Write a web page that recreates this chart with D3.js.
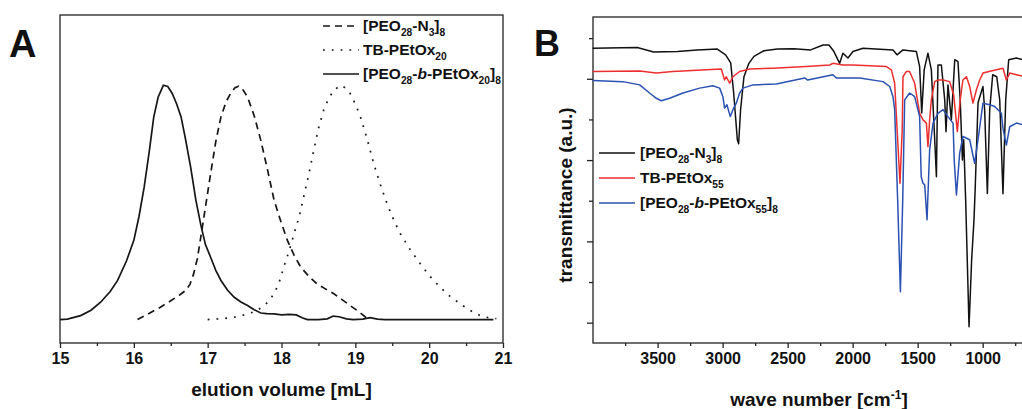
<!DOCTYPE html>
<html>
<head>
<meta charset="utf-8">
<script src="https://cdn.jsdelivr.net/npm/d3@7"></script>
<style>
    body { margin: 0; background: #fff; }
    svg text { font-family: "Liberation Sans", Arial, sans-serif; font-weight: bold; fill: #111; }
</style>
</head>
<body>
<div id="chart"></div>
<script>

// ---------- panel A : SEC traces (elution volume [mL], normalized signal) ----------
let solidA = [[15.0,0],[15.1,0.002],[15.28,0.017],[15.42,0.04],[15.55,0.074],[15.68,0.12],[15.78,0.167],[15.9,0.25],
    [16.0,0.338],[16.07,0.44],[16.14,0.565],[16.21,0.72],[16.27,0.865],[16.33,0.95],[16.40,1.0],[16.46,0.995],
    [16.52,0.965],[16.58,0.92],[16.64,0.865],[16.70,0.77],[16.77,0.65],[16.84,0.51],[16.91,0.40],[16.97,0.32],
    [17.04,0.266],[17.11,0.21],[17.18,0.167],[17.27,0.125],[17.36,0.095],[17.45,0.075],[17.54,0.06],[17.63,0.042],
    [17.72,0.028],[17.8,0.025],[17.9,0.024],[18.0,0.02],[18.1,0.022],[18.2,0.02],[18.28,0.008],[18.35,0],[18.5,0],
    [18.62,0.003],[18.7,0.015],[18.78,0.012],[18.88,0.003],[18.97,0],[19.1,0.002],[19.2,0.008],[19.3,0.002],[19.4,0],[20.87,0]];

let dashedA = [[16.05,0],[16.2,0.025],[16.36,0.053],[16.5,0.08],[16.62,0.105],[16.70,0.124],[16.76,0.15],[16.81,0.195],
    [16.86,0.26],[16.9,0.338],[16.97,0.48],[17.04,0.623],[17.11,0.76],[17.18,0.865],[17.25,0.93],[17.31,0.965],
    [17.37,0.99],[17.42,0.996],[17.48,0.98],[17.54,0.95],[17.63,0.87],[17.72,0.765],[17.81,0.64],[17.9,0.509],
    [17.99,0.42],[18.08,0.338],[18.17,0.275],[18.26,0.224],[18.37,0.185],[18.48,0.152],[18.6,0.13],[18.71,0.11],
    [18.82,0.085],[18.93,0.06],[19.04,0.035],[19.14,0.01],[19.2,0]];

let dottedA = [[17.0,0],[17.2,0.004],[17.36,0.01],[17.52,0.022],[17.67,0.038],[17.8,0.07],[17.9,0.11],[17.97,0.16],
    [18.03,0.224],[18.1,0.29],[18.17,0.366],[18.24,0.44],[18.3,0.523],[18.37,0.62],[18.44,0.727],[18.5,0.815],
    [18.57,0.893],[18.64,0.945],[18.71,0.979],[18.8,1.0],[18.86,0.99],[18.93,0.965],[19.0,0.92],[19.07,0.865],
    [19.16,0.77],[19.25,0.665],[19.34,0.575],[19.43,0.494],[19.52,0.425],[19.61,0.366],[19.74,0.3],[19.88,0.238],
    [20.01,0.185],[20.15,0.138],[20.28,0.1],[20.42,0.067],[20.55,0.04],[20.69,0.017],[20.8,0.008],[20.91,0.004]];

let ticksA = [15, 16, 17, 18, 19, 20, 21];
let minorTicksA = [15.5, 16.5, 17.5, 18.5, 19.5, 20.5];

// legend labels, split in pieces so the subscripts can be set (sub / it flags)
let legendA = [
    {dash: "7,5", parts: [{t: "[PEO"}, {t: "28", sub: true}, {t: "-N"}, {t: "3", sub: true}, {t: "]"}, {t: "8", sub: true}]},
    {dash: "1.8,7", parts: [{t: "TB-PEtOx"}, {t: "20", sub: true}]},
    {dash: null, parts: [{t: "[PEO"}, {t: "28", sub: true}, {t: "-"}, {t: "b", it: true}, {t: "-PEtOx"}, {t: "20", sub: true}, {t: "]"}, {t: "8", sub: true}]}
];

// ---------- panel B : IR spectra (wave number [cm-1], transmittance a.u.) ----------
let blackB = [[4000,6.75],[3656,6.77],[3531,6.66],[3348,6.67],[3195,6.71],[3041,6.73],[2977,6.59],[2938,6.39],
    [2915,5.65],[2887,4.5],[2877,4.4],[2862,5.24],[2836,6.05],[2798,6.38],[2759,6.55],[2682,6.69],[2579,6.73],
    [2452,6.74],[2323,6.71],[2228,6.83],[2182,6.83],[2144,6.67],[2100,6.38],[2075,6.63],[2036,6.51],[1998,6.67],
    [1921,6.75],[1690,6.71],[1659,6.59],[1613,6.71],[1510,6.67],[1485,6.3],[1469,5.16],[1450,6.22],[1421,6.63],
    [1395,6.22],[1369,4.5],[1356,3.59],[1344,6.34],[1318,6.34],[1292,5.48],[1282,4.7],[1267,5.85],[1241,4.99],
    [1215,6.47],[1190,6.42],[1173,5.48],[1156,4.0],[1146,4.5],[1131,3.02],[1105,-0.1],[1085,1.54],[1067,2.53],
    [1058,3.27],[1036,5.41],[998,5.81],[985,5.24],[964,3.18],[946,5.24],[923,6.1],[892,6.05],[869,5.48],[844,3.17],
    [823,5.48],[800,6.47],[741,6.51],[690,6.47]];

let redB = [[4000,6.18],[3638,6.19],[3510,6.14],[3382,6.18],[3125,6.22],[3010,6.24],[2985,5.97],[2972,6.05],
    [2946,5.89],[2921,6.05],[2869,6.18],[2792,6.24],[2613,6.26],[2356,6.3],[2177,6.34],[2152,6.38],[2075,6.34],
    [1998,6.34],[1741,6.3],[1702,6.22],[1677,5.89],[1654,4.5],[1636,3.43],[1619,4.74],[1613,6.05],[1587,6.18],
    [1562,6.18],[1523,5.89],[1485,5.15],[1459,4.99],[1433,4.91],[1421,4.33],[1408,4.99],[1395,5.48],[1369,5.93],
    [1344,5.97],[1305,5.97],[1254,5.93],[1223,5.6],[1195,4.7],[1173,5.48],[1152,5.97],[1125,6.05],[1100,5.81],
    [1075,5.4],[1048,5.73],[1023,5.97],[998,6.14],[895,6.22],[844,6.26],[818,5.97],[792,6.14],[741,6.1],[690,6.06]];

let blueB = [[4000,5.96],[3767,5.93],[3638,5.85],[3562,5.65],[3510,5.52],[3472,5.46],[3408,5.52],[3305,5.65],
    [3177,5.77],[3075,5.83],[3023,5.77],[2998,5.56],[2985,5.28],[2967,5.36],[2941,5.07],[2921,5.24],[2895,5.4],
    [2869,5.65],[2844,5.77],[2767,5.85],[2587,5.87],[2369,6.02],[2346,5.97],[2152,6.1],[2126,6.02],[1946,6.02],
    [1767,5.93],[1715,5.81],[1690,5.56],[1677,5.24],[1654,3.02],[1633,0.76],[1615,3.02],[1600,5.48],[1562,5.65],
    [1523,5.56],[1485,5.07],[1473,3.59],[1459,3.43],[1446,3.39],[1428,2.53],[1408,4.25],[1395,4.58],[1382,4.91],
    [1344,5.15],[1305,5.24],[1267,5.07],[1228,4.91],[1219,4.0],[1202,3.14],[1177,4.17],[1152,4.58],[1100,4.5],
    [1062,3.92],[1036,4.5],[998,5.4],[946,5.36],[908,5.32],[856,5.15],[844,4.78],[818,4.37],[792,4.82],[741,4.91],[690,4.87]];

let ticksB = [3500, 3000, 2500, 2000, 1500, 1000];
let minorTicksB = [3750, 3250, 2750, 2250, 1750, 1250, 750];
let yTicksB = [0, 2, 4, 6];
let yMinorTicksB = [1, 3, 5, 7];

let legendB = [
    {color: "#111111", parts: [{t: "[PEO"}, {t: "28", sub: true}, {t: "-N"}, {t: "3", sub: true}, {t: "]"}, {t: "8", sub: true}]},
    {color: "#ee2e2e", parts: [{t: "TB-PEtOx"}, {t: "55", sub: true}]},
    {color: "#2a52b2", parts: [{t: "[PEO"}, {t: "28", sub: true}, {t: "-"}, {t: "b", it: true}, {t: "-PEtOx"}, {t: "55", sub: true}, {t: "]"}, {t: "8", sub: true}]}
];

let series = [blackB, redB, blueB];

// ---------- drawing ----------
let svg = d3.select("#chart").append("svg")
    .attr("width", 1022)
    .attr("height", 409);

// writes text pieces with sub/italic tspans
function richText(sel, parts, size) {
    let shift = 0;
    parts.forEach(p => {
        let ts = sel.append("tspan").text(p.t);
        if (p.sub) {
            ts.attr("font-size", size * 0.66).attr("dy", 5 - shift);
            shift = 5;
        } else {
            ts.attr("dy", -shift);
            shift = 0;
        }
        if (p.it) ts.attr("font-style", "italic");
    });
}

// ===== panel A =====
let xA = d3.scaleLinear().domain([15, 21]).range([60, 503]);
let yA = d3.scaleLinear().domain([-0.1, 1.3]).range([343, 15]);

let gA = svg.append("g");

gA.append("rect")
    .attr("x", xA.range()[0]).attr("y", yA.range()[1])
    .attr("width", xA.range()[1] - xA.range()[0])
    .attr("height", yA.range()[0] - yA.range()[1])
    .attr("fill", "none").attr("stroke", "#222").attr("stroke-width", 1.3);

gA.append("g")
    .attr("transform", `translate(0, ${yA.range()[0]})`)
    .call(d3.axisBottom(xA).tickValues(ticksA).tickSize(5).tickPadding(5).tickFormat(d3.format("d")))
    .call(g => g.select(".domain").remove())
    .call(g => g.selectAll("line").attr("stroke", "#222").attr("stroke-width", 1.3))
    .call(g => g.selectAll("text").attr("font-size", 16).attr("font-family", null).attr("fill", "#111"));

gA.append("g")
    .attr("transform", `translate(0, ${yA.range()[0]})`)
    .call(d3.axisBottom(xA).tickValues(minorTicksA).tickSize(3).tickFormat(""))
    .call(g => g.select(".domain").remove())
    .call(g => g.selectAll("line").attr("stroke", "#222").attr("stroke-width", 1.3));

let lineA = d3.line().x(d => xA(d[0])).y(d => yA(d[1]));

[[dashedA, "7,5"], [dottedA, "1.8,7"], [solidA, null]].forEach(([data, dash]) => {
    gA.append("path")
        .datum(data)
        .attr("d", lineA)
        .attr("fill", "none")
        .attr("stroke", "#161616")
        .attr("stroke-width", 1.7)
        .attr("stroke-dasharray", dash);
});

// legend A
let legA = gA.append("g").attr("transform", "translate(323, 26)");
legendA.forEach((l, i) => {
    let row = legA.append("g").attr("transform", `translate(0, ${i * 24})`);
    row.append("line").attr("x1", 0).attr("x2", 36).attr("y1", 0).attr("y2", 0)
        .attr("stroke", "#161616").attr("stroke-width", 1.7).attr("stroke-dasharray", l.dash);
    let t = row.append("text").attr("x", 40).attr("y", 5).attr("font-size", 15.5);
    richText(t, l.parts, 15.5);
});

gA.append("text").attr("x", 9).attr("y", 57).attr("font-size", 38).text("A");

gA.append("text")
    .attr("x", (xA.range()[0] + xA.range()[1]) / 2).attr("y", 396)
    .attr("text-anchor", "middle").attr("font-size", 19)
    .text("elution volume [mL]");

// ===== panel B =====
let xB = d3.scaleLinear().domain([3997, 690]).range([593, 1023]);
let yB = d3.scaleLinear().domain([-0.5, 7.52]).range([343, 17]);

let gB = svg.append("g");

gB.append("rect")
    .attr("x", xB.range()[0]).attr("y", yB.range()[1])
    .attr("width", xB.range()[1] - xB.range()[0] + 5)
    .attr("height", yB.range()[0] - yB.range()[1])
    .attr("fill", "none").attr("stroke", "#222").attr("stroke-width", 1.3);

gB.append("g")
    .attr("transform", `translate(0, ${yB.range()[0]})`)
    .call(d3.axisBottom(xB).tickValues(ticksB).tickSize(5).tickPadding(5).tickFormat(d3.format("d")))
    .call(g => g.select(".domain").remove())
    .call(g => g.selectAll("line").attr("stroke", "#222").attr("stroke-width", 1.3))
    .call(g => g.selectAll("text").attr("font-size", 16).attr("font-family", null).attr("fill", "#111"));

gB.append("g")
    .attr("transform", `translate(0, ${yB.range()[0]})`)
    .call(d3.axisBottom(xB).tickValues(minorTicksB).tickSize(3).tickFormat(""))
    .call(g => g.select(".domain").remove())
    .call(g => g.selectAll("line").attr("stroke", "#222").attr("stroke-width", 1.3));

gB.append("g")
    .attr("transform", `translate(${xB.range()[0]}, 0)`)
    .call(d3.axisLeft(yB).tickValues(yTicksB).tickSize(6).tickFormat(""))
    .call(g => g.select(".domain").remove())
    .call(g => g.selectAll("line").attr("stroke", "#222").attr("stroke-width", 1.3));

gB.append("g")
    .attr("transform", `translate(${xB.range()[0]}, 0)`)
    .call(d3.axisLeft(yB).tickValues(yMinorTicksB).tickSize(4).tickFormat(""))
    .call(g => g.select(".domain").remove())
    .call(g => g.selectAll("line").attr("stroke", "#222").attr("stroke-width", 1.3));

let lineB = d3.line().x(d => xB(d[0])).y(d => yB(d[1]));

series.forEach((data, i) => {
    gB.append("path")
        .datum(data)
        .attr("d", lineB)
        .attr("fill", "none")
        .attr("stroke", legendB[i].color)
        .attr("stroke-width", 1.5)
        .attr("stroke-linejoin", "round");
});

// legend B
let legB = gB.append("g").attr("transform", "translate(599, 153)");
legendB.forEach((l, i) => {
    let row = legB.append("g").attr("transform", `translate(0, ${i * 25})`);
    row.append("line").attr("x1", 0).attr("x2", 36).attr("y1", 0).attr("y2", 0)
        .attr("stroke", l.color).attr("stroke-width", 1.7);
    let t = row.append("text").attr("x", 41).attr("y", 5).attr("font-size", 15.5);
    richText(t, l.parts, 15.5);
});

gB.append("text").attr("x", 534).attr("y", 56).attr("font-size", 36).text("B");

let xLab = gB.append("text")
    .attr("x", 819).attr("y", 406)
    .attr("text-anchor", "middle").attr("font-size", 19)
    .text("wave number [cm");
xLab.append("tspan").attr("font-size", 12).attr("dy", -7).text("-1");
xLab.append("tspan").attr("dy", 7).text("]");

gB.append("text")
    .attr("transform", "translate(572, 195) rotate(-90)")
    .attr("text-anchor", "middle").attr("font-size", 19)
    .text("transmittance (a.u.)");

</script>
</body>
</html>
